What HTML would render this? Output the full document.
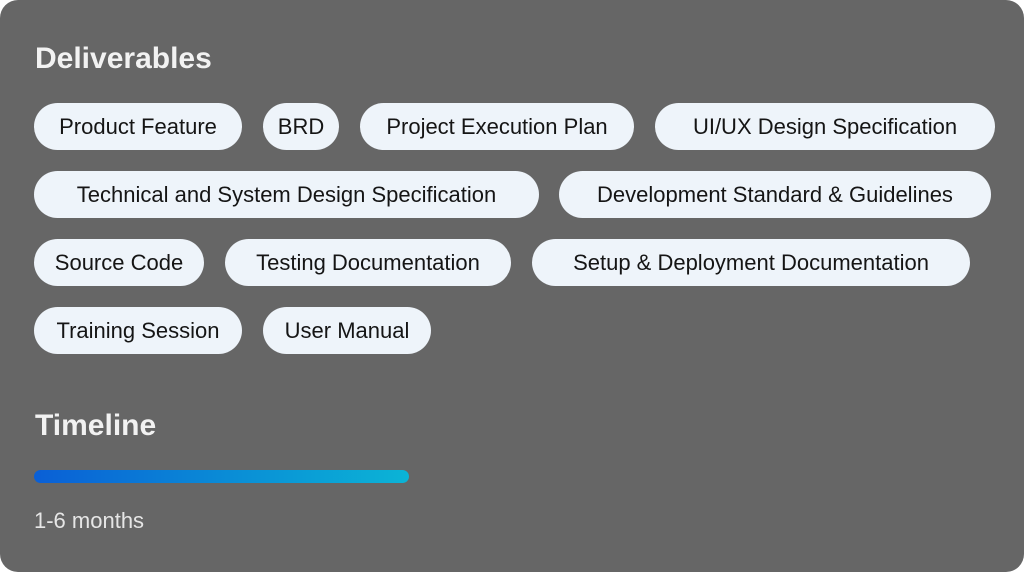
<!DOCTYPE html>
<html><head><style>
html,body{margin:0;padding:0;background:#fff;}
#c{position:relative;width:1024px;height:572px;background:#666666;border-radius:18px;overflow:hidden;font-family:"Liberation Sans",sans-serif;}
.h{position:absolute;left:35px;color:#f2f2f2;font-weight:bold;font-size:30px;line-height:34px;}
.p{position:absolute;height:47px;border-radius:24px;background:#eef4fa;color:#151515;font-size:22px;line-height:47px;text-align:center;white-space:nowrap;}
#bar{position:absolute;left:34px;top:470px;width:375px;height:13px;border-radius:7px;background:linear-gradient(90deg,#0a5fd6,#0a8fd6 55%,#0bb4d6);}
#m{position:absolute;left:34px;top:508px;color:#e6e6e6;font-size:22px;line-height:26px;}
</style></head><body><div id="c">
<div class="h" style="top:42px">Deliverables</div>
<div class="p" style="left:34px;top:103px;width:208px">Product Feature</div>
<div class="p" style="left:263px;top:103px;width:76px">BRD</div>
<div class="p" style="left:360px;top:103px;width:274px">Project Execution Plan</div>
<div class="p" style="left:655px;top:103px;width:340px">UI/UX Design Specification</div>
<div class="p" style="left:34px;top:171px;width:505px">Technical and System Design Specification</div>
<div class="p" style="left:559px;top:171px;width:432px">Development Standard &amp; Guidelines</div>
<div class="p" style="left:34px;top:239px;width:170px">Source Code</div>
<div class="p" style="left:225px;top:239px;width:286px">Testing Documentation</div>
<div class="p" style="left:532px;top:239px;width:438px">Setup &amp; Deployment Documentation</div>
<div class="p" style="left:34px;top:307px;width:208px">Training Session</div>
<div class="p" style="left:263px;top:307px;width:168px">User Manual</div>
<div class="h" style="top:409px">Timeline</div>
<div id="bar"></div>
<div id="m">1-6 months</div>
</div></body></html>
